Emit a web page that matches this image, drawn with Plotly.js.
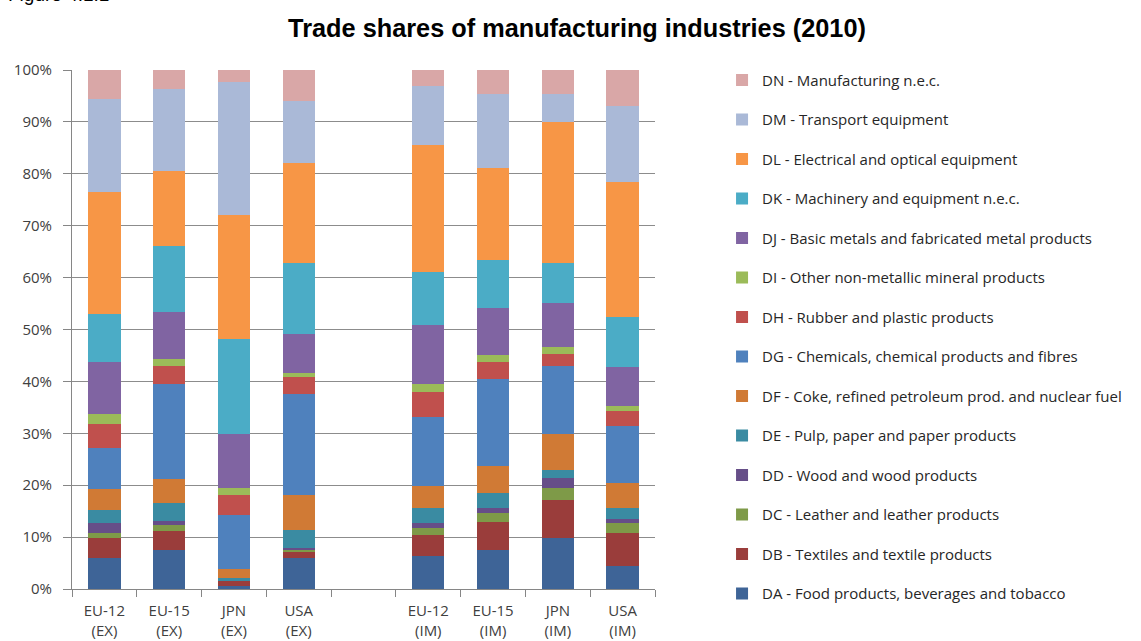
<!DOCTYPE html>
<html>
<head>
<meta charset="utf-8">
<script src="https://cdn.plot.ly/plotly-3.0.1.min.js"></script>
<style>html,body{margin:0;padding:0;background:#fff;}#chart{width:1141px;height:641px;}</style>
</head>
<body>
<div id="chart"></div>
<script>
// Categories (blank slot separates exports and imports)
const categories = ["EU-12<br>(EX)", "EU-15<br>(EX)", "JPN<br>(EX)", "USA<br>(EX)", " ",
                    "EU-12<br>(IM)", "EU-15<br>(IM)", "JPN<br>(IM)", "USA<br>(IM)"];

// Shares in % (bottom to top of each stack)
const DA = [5.95, 7.55, 0.6, 5.95, null, 6.3, 7.55, 9.8, 4.35];
const DB = [3.85, 3.55, 0.85, 1.25, null, 4.15, 5.45, 7.4, 6.45];
const DC = [1.0, 1.3, 0.1, 0.35, null, 1.35, 1.6, 2.3, 1.9];
const DD = [1.9, 0.65, 0.05, 0.35, null, 0.9, 1.0, 1.9, 0.7];
const DE = [2.6, 3.55, 0.6, 3.5, null, 2.9, 2.9, 1.6, 2.2];
const DF = [3.9, 4.5, 1.6, 6.8, null, 4.2, 5.2, 6.8, 4.85];
const DG = [8.0, 18.4, 10.55, 19.35, null, 13.3, 16.75, 13.25, 10.95];
const DH = [4.6, 3.55, 3.85, 3.25, null, 4.8, 3.25, 2.25, 2.9];
const DI = [1.9, 1.25, 1.3, 0.9, null, 1.6, 1.3, 1.3, 1.0];
const DJ = [10.0, 9.1, 10.3, 7.5, null, 11.3, 9.1, 8.5, 7.4];
const DK = [9.3, 12.6, 18.4, 13.55, null, 10.35, 9.3, 7.65, 9.8];
const DL = [23.4, 14.45, 23.9, 19.3, null, 24.45, 17.7, 27.3, 26.0];
const DM = [18.0, 15.85, 25.5, 12.05, null, 11.4, 14.3, 5.35, 14.6];
const DN = [5.6, 3.7, 2.4, 5.9, null, 3.0, 4.6, 4.6, 6.9];

const seriesNames = [
  "DA - Food products, beverages and tobacco",
  "DB - Textiles and textile products",
  "DC - Leather and leather products",
  "DD - Wood and wood products",
  "DE - Pulp, paper and paper products",
  "DF - Coke, refined petroleum prod. and nuclear fuel",
  "DG - Chemicals, chemical products and fibres",
  "DH - Rubber and plastic products",
  "DI - Other non-metallic mineral products",
  "DJ - Basic metals and fabricated metal products",
  "DK - Machinery and equipment n.e.c.",
  "DL - Electrical and optical equipment",
  "DM - Transport equipment",
  "DN - Manufacturing n.e.c."
];
const seriesValues = [DA, DB, DC, DD, DE, DF, DG, DH, DI, DJ, DK, DL, DM, DN];
const seriesColors = ["#3E6497", "#9A3D3B", "#7E9A48", "#664E88", "#3A8BA2", "#D07A35", "#4F81BD",
                      "#C0504D", "#9BBB59", "#8064A2", "#4BACC6", "#F79646", "#AAB9D7", "#D9A7A7"];

const traces = seriesNames.map((name, i) => ({
  type: "bar",
  name: name,
  x: categories,
  y: seriesValues[i],
  legendgroup: "g" + i,
  legendrank: 100 - i,
  marker: {color: seriesColors[i], line: {width: 0}},
  hoverinfo: "name+y"
}));

const fontFam = "Open Sans, sans-serif";
const layout = {
  width: 1141, height: 641,
  paper_bgcolor: "#fff", plot_bgcolor: "#fff",
  margin: {l: 72, r: 486, t: 70, b: 52, pad: 0, autoexpand: false},
  barmode: "stack",
  barnorm: "percent",
  bargap: 0.5,
  title: {
    text: "<b>Trade shares of manufacturing industries (2010)</b>",
    font: {family: "Liberation Sans, Arial, sans-serif", size: 25.3, color: "#000"},
    xref: "container", x: 577 / 1141, xanchor: "center",
    yref: "container", y: 1 - 28 / 641, yanchor: "middle"
  },
  xaxis: {
    type: "category",
    categoryorder: "array", categoryarray: categories,
    range: [-0.5, 8.5],
    tickson: "boundaries",
    ticks: "outside", ticklen: 7, tickcolor: "#868686", tickwidth: 1,
    showline: true, linecolor: "#868686", linewidth: 1,
    showgrid: false, zeroline: false,
    ticklabelstandoff: 8,
    tickfont: {family: fontFam, size: 15, color: "#404040"},
    fixedrange: true
  },
  yaxis: {
    range: [0, 100], dtick: 10, tick0: 0,
    ticksuffix: "%",
    ticks: "outside", ticklen: 8, tickcolor: "#868686", tickwidth: 1,
    showline: true, linecolor: "#868686", linewidth: 1,
    showgrid: true, gridcolor: "#8c8c8c", gridwidth: 1,
    zeroline: false,
    ticklabelstandoff: 8,
    tickfont: {family: fontFam, size: 15, color: "#404040"},
    fixedrange: true
  },
  legend: {
    traceorder: "grouped",
    tracegroupgap: 17,
    maxheight: 641,
    x: 1.115, xanchor: "left",
    y: 1.012, yanchor: "top",
    font: {family: fontFam, size: 15, color: "#262626"},
    bgcolor: "rgba(0,0,0,0)",
    itemclick: false, itemdoubleclick: false
  },
  annotations: [{
    text: "Figure 4.1.1",
    xref: "paper", x: (6 - 72) / 583, xanchor: "left",
    yref: "paper", y: (589.5 - 6.5) / 519.5, yanchor: "bottom",
    showarrow: false,
    font: {family: "Liberation Sans, Arial, sans-serif", size: 19, color: "#000"}
  }],
  showlegend: true
};

Plotly.newPlot("chart", traces, layout, {displayModeBar: false, staticPlot: true});
</script>
</body>
</html>
